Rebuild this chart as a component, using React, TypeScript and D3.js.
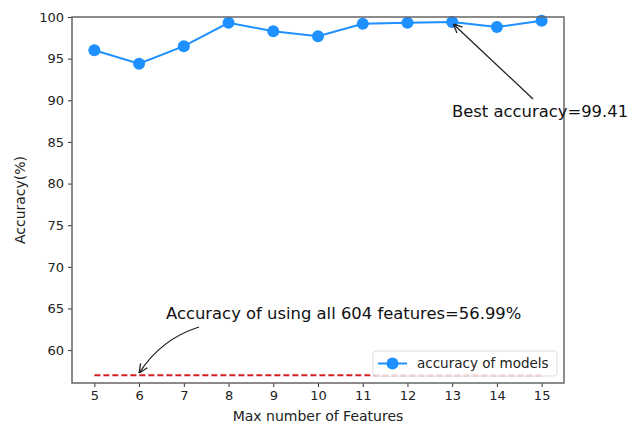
import React, { useRef, useEffect } from 'react';
import * as d3 from 'd3';

const features = [5, 6, 7, 8, 9, 10, 11, 12, 13, 14, 15];
const accuracy = [96.0, 94.4, 96.5, 99.3, 98.3, 97.7, 99.2, 99.3, 99.41, 98.8, 99.55];
const baseline = 56.99;
const yTicks = [60, 65, 70, 75, 80, 85, 90, 95, 100];

const App = () => {
  const svgRef = useRef<SVGSVGElement>(null);

  useEffect(() => {
    const svg = d3.select(svgRef.current);
    svg.selectAll('*').remove();

    const width = 641;
    const height = 425;
    const margin = { top: 17, right: 77, bottom: 42, left: 72 };
    const innerWidth = width - margin.left - margin.right;
    const innerHeight = height - margin.top - margin.bottom;
    const font = 'DejaVu Sans, sans-serif';

    const x = d3.scaleLinear().domain([4.5, 15.5]).range([0, innerWidth]);
    const y = d3.scaleLinear().domain([56.05, 100]).range([innerHeight, 0]);

    const defs = svg.append('defs');
    defs.append('marker')
      .attr('id', 'arrow')
      .attr('viewBox', '0 0 10 10')
      .attr('refX', 10)
      .attr('refY', 5)
      .attr('markerWidth', 10)
      .attr('markerHeight', 10)
      .attr('markerUnits', 'userSpaceOnUse')
      .attr('orient', 'auto')
      .append('path')
      .attr('d', 'M1,1 L10,5 L1,9')
      .attr('fill', 'none')
      .attr('stroke', '#222')
      .attr('stroke-width', 1.3);

    const g = svg.append('g')
      .attr('transform', `translate(${margin.left},${margin.top})`);

    // baseline (all features)
    g.append('line')
      .attr('x1', x(5))
      .attr('x2', x(15))
      .attr('y1', y(baseline))
      .attr('y2', y(baseline))
      .attr('stroke', '#d81e1e')
      .attr('stroke-width', 2)
      .attr('stroke-dasharray', '6,3');

    // accuracy line
    g.append('path')
      .datum(accuracy)
      .attr('fill', 'none')
      .attr('stroke', '#1e90ff')
      .attr('stroke-width', 2)
      .attr('d', d3.line<number>()
        .x((d, i) => x(features[i]))
        .y(d => y(d)));

    g.selectAll('circle.pt')
      .data(accuracy)
      .enter()
      .append('circle')
      .attr('class', 'pt')
      .attr('cx', (d, i) => x(features[i]))
      .attr('cy', d => y(d))
      .attr('r', 6)
      .attr('fill', '#1e90ff');

    // axes
    const xAxis = g.append('g')
      .attr('transform', `translate(0,${innerHeight})`)
      .call(d3.axisBottom(x).tickValues(features).tickSize(4).tickPadding(4));
    const yAxis = g.append('g')
      .call(d3.axisLeft(y).tickValues(yTicks).tickSize(4).tickPadding(4));
    [xAxis, yAxis].forEach(a => {
      a.select('.domain').remove();
      a.selectAll('line').attr('stroke', '#333');
      a.selectAll('text')
        .attr('font-family', font)
        .attr('font-size', 13)
        .attr('fill', '#222');
    });

    // frame
    g.append('rect')
      .attr('width', innerWidth)
      .attr('height', innerHeight)
      .attr('fill', 'none')
      .attr('stroke', '#666')
      .attr('stroke-width', 1.5);

    // axis labels
    svg.append('text')
      .attr('x', margin.left + innerWidth / 2)
      .attr('y', 421)
      .attr('text-anchor', 'middle')
      .attr('font-family', font)
      .attr('font-size', 14)
      .attr('fill', '#222')
      .text('Max number of Features');
    svg.append('text')
      .attr('transform', `translate(25,${margin.top + innerHeight / 2}) rotate(-90)`)
      .attr('text-anchor', 'middle')
      .attr('font-family', font)
      .attr('font-size', 14)
      .attr('fill', '#222')
      .text('Accuracy(%)');

    // best accuracy annotation
    const bx = x(13);
    const by = y(99.41);
    g.append('line')
      .attr('x1', 533 - margin.left)
      .attr('y1', 99 - margin.top)
      .attr('x2', bx + 1)
      .attr('y2', by + 2)
      .attr('stroke', '#222')
      .attr('stroke-width', 1.3)
      .attr('marker-end', 'url(#arrow)');
    g.append('text')
      .attr('x', 452 - margin.left)
      .attr('y', 117 - margin.top)
      .attr('font-family', font)
      .attr('font-size', 16.4)
      .attr('fill', '#111')
      .text('Best accuracy=99.41');

    // baseline annotation
    const tx = x(6);
    const ty = y(baseline) - 2;
    const sx = 199 - margin.left;
    const sy = 327 - margin.top;
    g.append('path')
      .attr('d', `M${sx},${sy} Q${sx - 38},${sy + 12} ${tx},${ty}`)
      .attr('fill', 'none')
      .attr('stroke', '#222')
      .attr('stroke-width', 1.3)
      .attr('marker-end', 'url(#arrow)');
    g.append('text')
      .attr('x', 166 - margin.left)
      .attr('y', 319 - margin.top)
      .attr('font-family', font)
      .attr('font-size', 16.4)
      .attr('fill', '#111')
      .text(`Accuracy of using all 604 features=${baseline}%`);

    // legend
    const lg = g.append('g')
      .attr('transform', `translate(${373 - margin.left},${351 - margin.top})`);
    lg.append('rect')
      .attr('width', 184)
      .attr('height', 25)
      .attr('rx', 3)
      .attr('fill', 'white')
      .attr('fill-opacity', 0.8)
      .attr('stroke', '#ddd');
    lg.append('line')
      .attr('x1', 5)
      .attr('x2', 34)
      .attr('y1', 12.5)
      .attr('y2', 12.5)
      .attr('stroke', '#1e90ff')
      .attr('stroke-width', 2);
    lg.append('circle')
      .attr('cx', 19.5)
      .attr('cy', 12.5)
      .attr('r', 6)
      .attr('fill', '#1e90ff');
    lg.append('text')
      .attr('x', 44)
      .attr('y', 17)
      .attr('font-family', font)
      .attr('font-size', 13.5)
      .attr('fill', '#222')
      .text('accuracy of models');
  }, []);

  return (
    <svg
      ref={svgRef}
      width={641}
      height={425}
      style={{ position: 'absolute', left: 0, top: 0, background: 'white' }}
    />
  );
};

export default App;
